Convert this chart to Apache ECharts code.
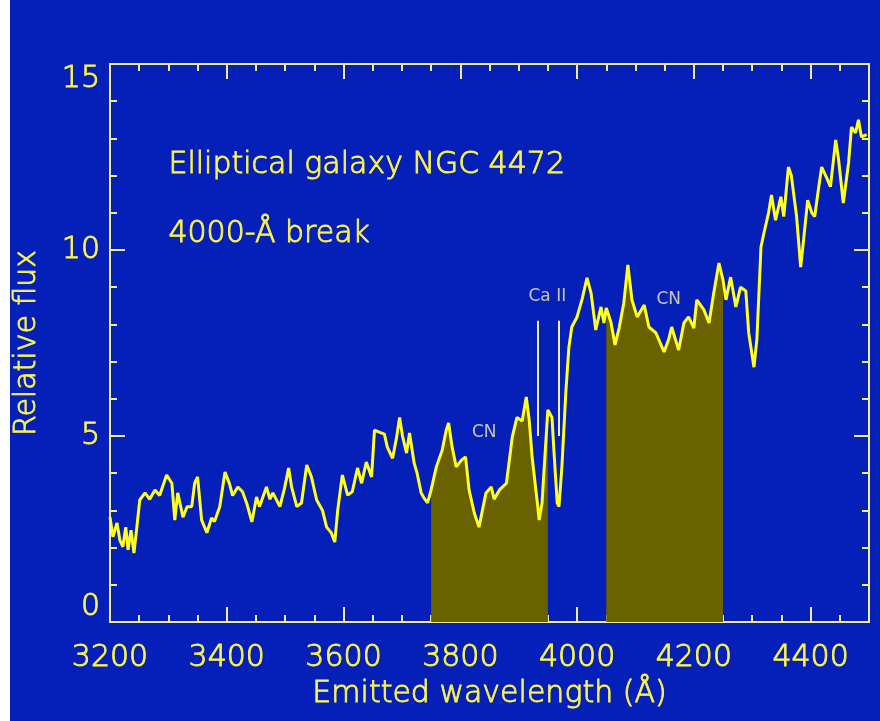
<!DOCTYPE html>
<html><head><meta charset="utf-8">
<script src="https://cdn.jsdelivr.net/npm/echarts@6/dist/echarts.min.js"></script>
<style>
html,body{margin:0;padding:0;background:#0420b8;overflow:hidden;}
#strip{position:absolute;left:0;top:0;width:10px;height:721px;background:#ffffff;}
#chart{position:absolute;left:0;top:0;width:880px;height:721px;}
</style>
</head><body><div id="strip"></div><div id="chart"></div>
<script>
// Emitted wavelength (Å)
const wavelength = [
3200,3205,3212,3217,3222,3227,3231,3236,3241,3246,3251,3260,3268,3277,3285,3297,3306,3311,3316,3325,
3332,3340,3345,3350,3357,3366,3374,3379,3388,3397,3405,3410,3419,3427,3434,3443,3451,3456,3468,3474,
3479,3491,3499,3506,3511,3520,3528,3537,3545,3554,3564,3571,3579,3585,3590,3598,3607,3615,3624,3631,
3639,3648,3653,3662,3670,3675,3684,3691,3696,3701,3708,3713,3721,3726,3733,3738,3744,3750,3759,3769,
3776,3780,3786,3793,3802,3809,3815,3824,3832,3844,3853,3858,3867,3879,3889,3897,3906,3913,3918,3923,
3932,3935,3940,3947,3950,3957,3961,3966,3969,3974,3981,3986,3991,4000,4009,4017,4024,4032,4041,4046,
4050,4058,4065,4072,4080,4087,4094,4103,4115,4123,4135,4149,4157,4162,4174,4183,4191,4200,4205,4217,
4226,4234,4243,4250,4255,4263,4272,4280,4289,4294,4303,4308,4315,4320,4328,4333,4340,4349,4354,4362,
4367,4376,4383,4388,4395,4402,4407,4414,4419,4427,4434,4443,4448,4456,4465,4470,4477,4482,4487,4496
];
// Relative flux
const flux = [
2.82,2.29,2.66,2.20,2.02,2.55,1.94,2.47,1.85,2.55,3.28,3.47,3.30,3.55,3.40,3.95,3.73,2.74,3.47,2.82,
3.10,3.10,3.73,3.90,2.74,2.40,2.80,2.70,3.10,4.03,3.70,3.40,3.63,3.50,3.20,2.69,3.36,3.10,3.63,3.30,
3.47,3.10,3.60,4.14,3.63,3.10,3.20,4.22,3.90,3.28,3.00,2.55,2.40,2.15,3.00,3.95,3.41,3.50,4.14,3.73,
4.30,3.90,5.16,5.10,5.05,4.70,4.40,4.97,5.50,5.00,4.54,5.08,4.27,4.00,3.47,3.33,3.20,3.55,4.17,4.62,
5.16,5.35,4.70,4.17,4.35,4.44,3.55,2.93,2.55,3.47,3.63,3.30,3.55,3.73,4.97,5.50,5.40,6.05,5.43,4.44,
3.20,2.74,3.20,4.97,5.70,5.50,4.44,3.20,3.10,4.17,6.24,7.39,7.93,8.20,8.70,9.25,8.84,7.85,8.47,8.04,
8.44,8.06,7.45,7.90,8.57,9.60,8.66,8.20,8.52,7.93,7.77,7.26,7.60,7.93,7.31,8.04,8.20,7.90,8.66,8.40,
8.04,8.84,9.65,9.19,8.66,9.27,8.47,9.00,8.90,7.77,6.85,7.60,10.08,10.45,11.00,11.48,10.80,11.43,10.90,12.23,
12.00,10.90,9.54,10.27,11.34,11.00,10.90,11.70,12.23,11.96,11.70,12.96,12.42,11.26,12.34,13.30,13.15,13.50,13.04,13.10
];
// Shaded CN bands [start, end] in Å
const cnBands = [[3750, 3950], [4050, 4250]];
// Ca II H & K marker lines (Å) and their flux extent
const caIILines = [3933, 3968];
const caIIRange = [5.0, 8.1];
// In-plot annotations
const noteLabels = ['Ca II', 'CN', 'CN'];
const noteX = [3949, 3841, 4157];
const noteY = [8.74, 5.1, 8.66];
// Axis setup
const xMin = 3200, xMax = 4500, xMajor = 200, xMinor = 50;
const yMin = 0, yMax = 15, yMajor = 5, yMinor = 1;
const titleLines = ['Elliptical galaxy NGC 4472', '4000-Å break'];

const AX = '#f2ec84';
const TXT = '#fbf250';
const LINE = '#ffff22';
const FILL = '#6a6200';
const FONT = '"DejaVu Sans", sans-serif';
const FW = 300;
const BW = 0.9;

const spectrum = wavelength.map((w, i) => [w, flux[i]]);
const bandSeries = cnBands.map(b => ({
  type: 'line', xAxisIndex: 0, yAxisIndex: 0,
  data: spectrum.filter(p => p[0] >= b[0] && p[0] <= b[1]),
  showSymbol: false, silent: true, z: 1,
  lineStyle: {width: 0, color: FILL},
  areaStyle: {color: FILL, opacity: 1}
}));

const bigText = {color: TXT, fontSize: 30, fontFamily: FONT, fontWeight: FW, textBorderColor: TXT, textBorderWidth: BW};

function xAx(grid, pos, interval, len, labels) {
  const a = {
    gridIndex: grid, type: 'value', position: pos, min: xMin, max: xMax, interval: interval,
    axisLine: {show: true, onZero: false, lineStyle: {color: AX, width: 2}},
    axisTick: {show: true, inside: true, length: len, lineStyle: {color: AX, width: 2}},
    axisLabel: {show: false},
    splitLine: {show: false}
  };
  if (labels) {
    a.axisLabel = Object.assign({show: true, margin: 21, showMaxLabel: false, formatter: v => String(v)}, bigText);
    a.name = 'Emitted wavelength (Å)';
    a.nameLocation = 'middle';
    a.nameGap = 57;
    a.nameTextStyle = Object.assign({}, bigText);
  }
  return a;
}
function yAx(grid, pos, interval, len, labels) {
  const a = {
    gridIndex: grid, type: 'value', position: pos, min: yMin, max: yMax, interval: interval,
    axisLine: {show: true, onZero: false, lineStyle: {color: AX, width: 2}},
    axisTick: {show: true, inside: true, length: len, lineStyle: {color: AX, width: 2}},
    axisLabel: {show: false},
    splitLine: {show: false}
  };
  if (labels) {
    a.axisLabel = Object.assign({show: true, margin: 10,
      verticalAlignMaxLabel: 'top', verticalAlignMinLabel: 'bottom', formatter: v => String(v)}, bigText);
    a.name = 'Relative flux';
    a.nameLocation = 'middle';
    a.nameGap = 68;
    a.nameRotate = 90;
    a.nameTextStyle = Object.assign({}, bigText);
  }
  return a;
}

const chart = echarts.init(document.getElementById('chart'), null, {renderer: 'canvas'});
chart.setOption({
  animation: false,
  backgroundColor: 'transparent',
  grid: [
    {left: 110, right: 11, top: 64, bottom: 99},
    {left: 110, right: 11, top: 64, bottom: 99}
  ],
  xAxis: [
    xAx(0, 'bottom', xMajor, 15, true),
    xAx(0, 'top', xMajor, 15, false),
    xAx(1, 'bottom', xMinor, 7, false),
    xAx(1, 'top', xMinor, 7, false)
  ],
  yAxis: [
    yAx(0, 'left', yMajor, 15, true),
    yAx(0, 'right', yMajor, 15, false),
    yAx(1, 'left', yMinor, 7, false),
    yAx(1, 'right', yMinor, 7, false)
  ],
  graphic: [
    {type: 'text', left: 168, top: 150, style: {text: titleLines[0], fill: TXT, fontSize: 30, fontFamily: FONT, fontWeight: FW, stroke: TXT, lineWidth: BW}},
    {type: 'text', left: 168, top: 219, style: {text: titleLines[1], fill: TXT, fontSize: 30, fontFamily: FONT, fontWeight: FW, stroke: TXT, lineWidth: BW}}
  ],
  series: bandSeries.concat([
    {
      type: 'line', xAxisIndex: 0, yAxisIndex: 0, data: spectrum,
      showSymbol: false, silent: true, z: 3,
      lineStyle: {color: LINE, width: 3},
      markLine: {
        silent: true, symbol: ['none', 'none'], label: {show: false},
        lineStyle: {color: '#f3efa0', width: 2, type: 'solid'},
        data: caIILines.map(l => [{coord: [l, caIIRange[0]]}, {coord: [l, caIIRange[1]]}])
      }
    },
    {
      type: 'scatter', xAxisIndex: 0, yAxisIndex: 0, silent: true, z: 4,
      symbolSize: 1, itemStyle: {color: 'rgba(0,0,0,0)'},
      data: noteLabels.map((n, i) => ({name: n, value: [noteX[i], noteY[i]]})),
      label: {show: true, position: 'inside', formatter: p => p.name, color: '#f6f0a0', fontSize: 17, fontFamily: FONT}
    }
  ])
});
</script>
</body></html>
